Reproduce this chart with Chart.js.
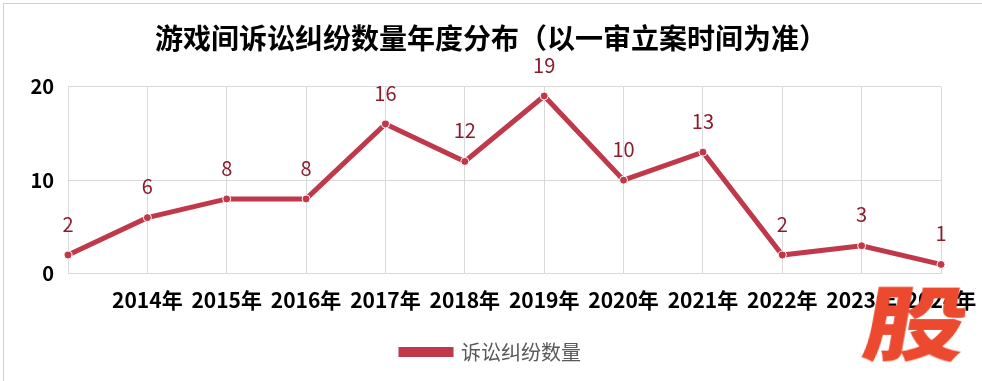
<!DOCTYPE html>
<html>
<head>
<meta charset="utf-8">
<script src="https://cdn.jsdelivr.net/npm/chart.js@4/dist/chart.umd.min.js"></script>
<style>
  html, body { margin: 0; padding: 0; background: #fff; }
  #wrap { position: relative; width: 982px; height: 381px; }
  #marco { position: absolute; left: 3px; top: 3px; right: 0; bottom: 0;
           border-top: 1px solid #d0d0d0; border-left: 1px solid #d0d0d0; pointer-events: none; }
  #grafico { position: absolute; left: 0; top: 0; }
  #mark { position: absolute; left: 873px; top: 279px; font-family: "Noto Sans CJK SC";
          font-weight: 900; font-size: 80px; line-height: 1; color: #ec4a2e;
          transform-origin: left top; transform: skewX(-10deg) scale(1.28, 1); }
</style>
</head>
<body>
<div id="wrap">
  <div id="marco"></div>
  <canvas id="grafico" width="982" height="381"></canvas>
  <div id="mark">股</div>
</div>
<script>
var anios = ["2013年", "2014年", "2015年", "2016年", "2017年", "2018年", "2019年", "2020年", "2021年", "2022年", "2023年", "2024年"];
var casos = [2, 6, 8, 8, 16, 12, 19, 10, 13, 2, 3, 1];
var marcasY = [0, 10, 20];

var fuente = "'Noto Sans CJK SC', 'Microsoft YaHei', sans-serif";
var rojo = '#c0394b';

// etiquetas de datos encima de cada punto
var etiquetas = {
  id: 'etiquetas',
  afterDatasetsDraw: function(chart) {
    var ctx = chart.ctx;
    var meta = chart.getDatasetMeta(0);
    ctx.save();
    ctx.font = '20px ' + fuente;
    ctx.fillStyle = '#8b1c2c';
    ctx.textAlign = 'center';
    ctx.textBaseline = 'middle';
    meta.data.forEach(function(p, i) {
      ctx.fillText(String(casos[i]), p.x, p.y - 31);
    });
    ctx.restore();
  }
};

var ctx = document.getElementById("grafico");

var grafico = new Chart(ctx, {
  type: 'line',
  data: {
    labels: anios,
    datasets: [{
      label: '诉讼纠纷数量',
      data: casos,
      borderColor: rojo,
      backgroundColor: rojo,
      borderWidth: 5,
      pointRadius: 4,
      pointBorderColor: '#ffffff',
      pointBorderWidth: 1,
      pointBackgroundColor: rojo,
      tension: 0,
      clip: false
    }]
  },
  options: {
    responsive: false,
    animation: false,
    layout: { padding: { left: 0, right: 0, top: 0, bottom: 9 } },
    plugins: {
      title: {
        display: true,
        text: '游戏间诉讼纠纷数量年度分布（以一审立案时间为准）',
        color: '#000',
        font: { family: fuente, size: 28, weight: 'bold' },
        padding: { top: 22, bottom: 31 }
      },
      legend: {
        position: 'bottom',
        labels: {
          boxWidth: 50,
          boxHeight: 5,
          color: '#595959',
          font: { family: fuente, size: 20 },
          padding: 15
        }
      },
      tooltip: { enabled: false }
    },
    scales: {
      x: {
        offset: false,
        afterFit: function(s) { s.paddingLeft = 0; s.paddingRight = 41; },
        grid: { color: '#d9d9d9', drawTicks: false },
        border: { color: '#d9d9d9' },
        ticks: {
          autoSkip: false,
          maxRotation: 0,
          color: '#000',
          padding: 14,
          font: { family: fuente, size: 21, weight: 'bold' },
          callback: function(v, i) { return i === 0 ? '' : anios[i]; }
        }
      },
      y: {
        min: 0,
        max: 20,
        afterFit: function(s) { s.width = 68; },
        afterBuildTicks: function(s) { s.ticks = marcasY.map(function(v) { return { value: v }; }); },
        grid: { color: '#d9d9d9', drawTicks: false },
        border: { display: false },
        ticks: {
          color: '#000',
          padding: 14,
          font: { family: fuente, size: 20, weight: 'bold' }
        }
      }
    }
  },
  plugins: [etiquetas]
});
</script>
</body>
</html>
